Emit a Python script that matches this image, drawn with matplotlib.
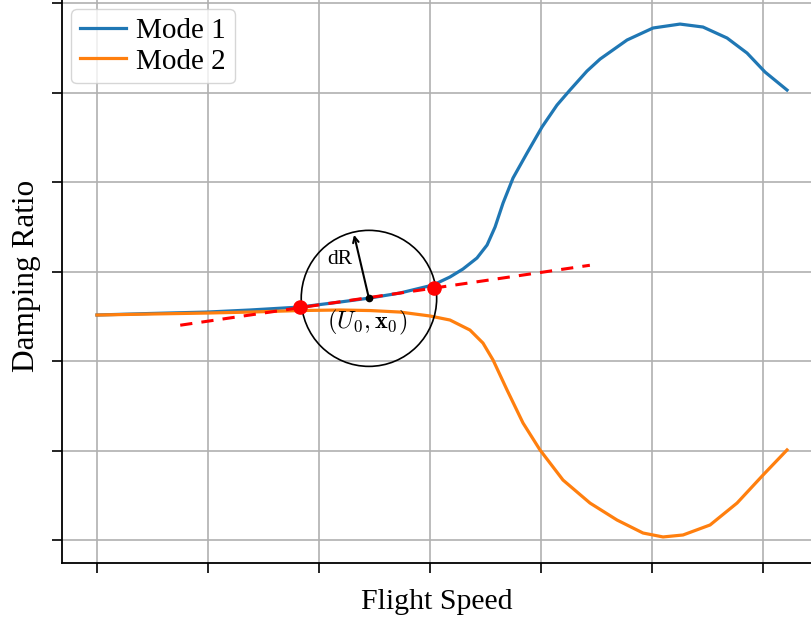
import matplotlib
matplotlib.use('Agg')
import matplotlib.pyplot as plt
from matplotlib.patches import Ellipse

plt.rcParams['font.family'] = ['Liberation Serif', 'DejaVu Serif']
plt.rcParams['mathtext.fontset'] = 'cm'

# === DATI ===
x_mode1 = [0.0, 0.477, 0.991, 1.378, 1.829, 2.189, 2.459, 2.730, 3.027, 3.180, 3.297, 3.423,
           3.514, 3.586, 3.658, 3.748, 3.874, 4.009, 4.144, 4.261, 4.414, 4.532, 4.775, 5.009,
           5.252, 5.459, 5.676, 5.856, 6.018, 6.216]
y_mode1 = [2.514, 2.531, 2.547, 2.570, 2.603, 2.659, 2.704, 2.760, 2.849, 2.939, 3.028, 3.151,
           3.296, 3.497, 3.765, 4.045, 4.324, 4.615, 4.860, 5.028, 5.240, 5.374, 5.587, 5.721,
           5.765, 5.732, 5.609, 5.441, 5.229, 5.028]

x_mode2 = [0.0, 0.477, 0.991, 1.378, 1.829, 2.189, 2.459, 2.730, 3.000, 3.180, 3.360, 3.477,
           3.568, 3.694, 3.838, 3.991, 4.198, 4.441, 4.685, 4.919, 5.099, 5.279, 5.523, 5.766,
           6.000, 6.216]
y_mode2 = [2.514, 2.525, 2.536, 2.547, 2.564, 2.570, 2.564, 2.547, 2.503, 2.458, 2.346, 2.201,
           2.011, 1.676, 1.307, 1.006, 0.670, 0.413, 0.223, 0.078, 0.034, 0.056, 0.168, 0.413,
           0.726, 1.006]

tangente_x = [0.75, 4.44]
tangente_y = [2.40, 3.07]
punti_x = [1.83, 3.04]
punti_y = [2.60, 2.82]
centro = (2.45, 2.70)
punta_freccia = (2.31, 3.44)
raggio_x = 0.61
raggio_y = 0.76

# === GRAFICO ===
fig = plt.figure(figsize=(8.11, 6.23), dpi=100)
ax = fig.add_axes([62 / 811, 60 / 623, 749 / 811, 563 / 623])

ax.plot(x_mode1, y_mode1, color='#1f77b4', lw=2.3, label='Mode 1', zorder=3,
        solid_joinstyle='round')
ax.plot(x_mode2, y_mode2, color='#ff7f0e', lw=2.3, label='Mode 2', zorder=3,
        solid_joinstyle='round')
ax.plot(tangente_x, tangente_y, color='red', ls='--', lw=2.2, dashes=(4, 3), zorder=4)
ax.plot(punti_x, punti_y, 'o', color='red', ms=9.5, zorder=5)
ax.plot(*centro, 'o', color='black', ms=4.5, zorder=6)

ax.add_patch(Ellipse(centro, 2 * raggio_x, 2 * raggio_y, fill=False, color='black', lw=1.2, zorder=4))
ax.annotate('', xy=punta_freccia, xytext=centro,
            arrowprops=dict(arrowstyle='->', color='black', lw=1.5), zorder=6)
ax.text(2.19, 3.13, 'dR', fontsize=15.5, ha='center', va='center')
ax.text(2.43, 2.43, r'$(U_0,\mathbf{x}_0)$', fontsize=17.5, ha='center', va='center')

ax.set_xlim(-0.315, 6.432)
ax.set_ylim(-0.257, 6.034)
ax.set_xticks(range(7))
ax.set_yticks(range(7))
ax.tick_params(labelbottom=False, labelleft=False, direction='out', length=7, width=1.2)
for s in ['top', 'right']:
    ax.spines[s].set_visible(False)
for s in ['left', 'bottom']:
    ax.spines[s].set_linewidth(1.3)
ax.grid(True, color='#b0b0b0', lw=1.2)
ax.set_axisbelow(True)

ax.set_xlabel('Flight Speed', fontsize=21.5, labelpad=12)
ax.set_ylabel('Damping Ratio', fontsize=22.5)
ax.yaxis.set_label_coords(-0.028, 0.51)
ax.legend(loc='upper left', fontsize=21, borderaxespad=0.3, handlelength=1.6,
          handletextpad=0.35, labelspacing=0.15, borderpad=0.3)

plt.savefig('out.png', dpi=100)
